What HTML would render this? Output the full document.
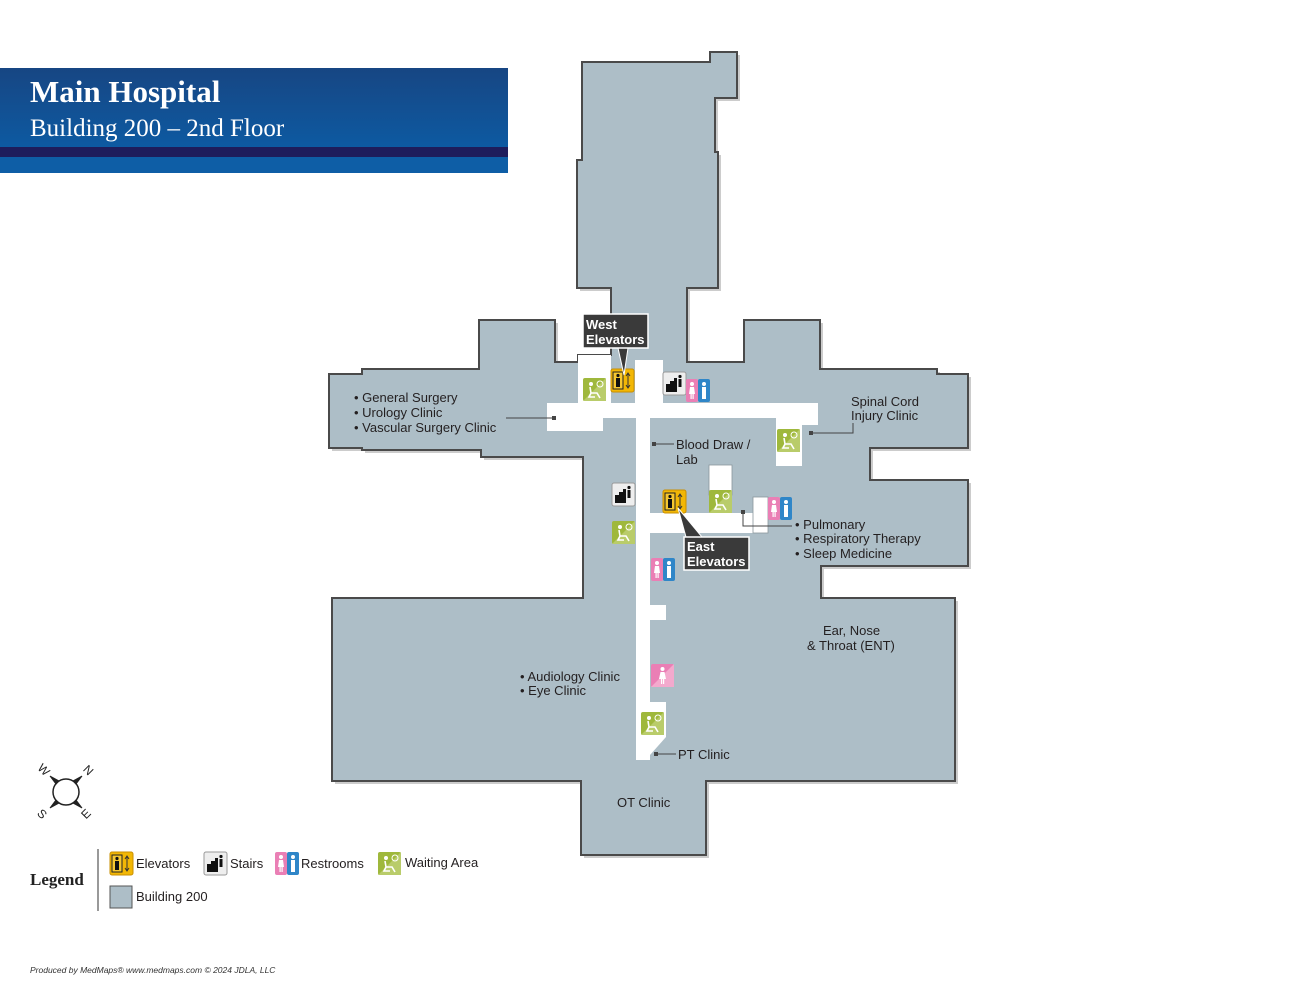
<!DOCTYPE html>
<html><head><meta charset="utf-8"><style>
html,body{margin:0;padding:0;background:#fff;}
svg{display:block;}
text{font-family:"Liberation Sans",sans-serif;}
.l{font-size:13px;fill:#231f20;}
.s{font-family:"Liberation Serif",serif;}
</style></head><body>
<svg width="1299" height="1004" viewBox="0 0 1299 1004" xmlns="http://www.w3.org/2000/svg">
<defs>
<linearGradient id="hg" x1="0" y1="0" x2="0" y2="1"><stop offset="0" stop-color="#174683"/><stop offset="1" stop-color="#0d5aa2"/></linearGradient>
<g id="wait"><rect width="23" height="23" rx="2" fill="#9fb83c"/><polygon points="23,0 23,23 0,23" fill="#b9cc6a"/><circle cx="8" cy="6" r="2" fill="#fff"/><path d="M7 9 L8 15 L14 15 L17 20 M8 15 L6 19 L12 19" stroke="#fff" stroke-width="1.6" fill="none"/><circle cx="17" cy="6" r="3" fill="none" stroke="#fff" stroke-width="1"/></g>
<g id="elev"><rect width="23" height="23" rx="2" fill="#f2b705" stroke="#c98f00"/><rect x="2" y="3" width="10" height="17" fill="#f7c830" stroke="#222" stroke-width="1"/><circle cx="7" cy="6.5" r="1.6" fill="#111"/><rect x="5" y="9" width="4" height="9" fill="#111"/><path d="M17 4 v15 M15 7 l2-3 2 3 M15 16 l2 3 2-3" stroke="#333" stroke-width="1" fill="none"/></g>
<g id="stair"><rect width="23" height="23" rx="2" fill="#eee" stroke="#999"/><path d="M3 20 V12 H7 V9 H11 V6 H14 V20Z" fill="#111"/><circle cx="17" cy="4.5" r="1.6" fill="#111"/><rect x="15.5" y="7" width="3" height="8" fill="#111"/></g>
<g id="rest"><rect width="12" height="23" rx="2" fill="#ea7fb5"/><rect x="12" width="12" height="23" rx="2" fill="#2f86c8"/><circle cx="6" cy="5" r="2" fill="#fff"/><path d="M4 8 H8 L9 15 H3Z M4.5 15 h1.2 v5 h-1.2z M6.5 15 h1.2 v5 h-1.2z" fill="#fff"/><circle cx="18" cy="5" r="2" fill="#fff"/><rect x="16" y="8" width="4" height="12" fill="#fff"/></g>
<g id="woman"><rect width="23" height="23" rx="2" fill="#ea7fb5"/><polygon points="23,0 23,23 0,23" fill="#f3a9cd"/><circle cx="11.5" cy="5" r="2" fill="#fff"/><path d="M9.5 8 H13.5 L15 15 H8Z M10 15 h1.2 v5 h-1.2z M12 15 h1.2 v5 h-1.2z" fill="#fff"/></g>
</defs>

<!-- header -->
<rect x="0" y="68" width="508" height="80" fill="url(#hg)"/>
<rect x="0" y="147" width="508" height="10" fill="#1e1d5c"/>
<rect x="0" y="157" width="508" height="16" fill="#0e5ea6"/>
<text x="30" y="102" class="s" font-size="31" font-weight="bold" fill="#fff">Main Hospital</text>
<text x="30" y="136" class="s" font-size="25" fill="#fff">Building 200 – 2nd Floor</text>

<!-- building -->
<g>
<path id="bld" d="M582 62 H710 V52 H737 V98 H715 V152 H718 V288 H687 V362 H744 V320 H820 V369 H937 V374 H968 V448 H870 V480 H968 V566 H821 V598 H955 V781 H706 V855 H581 V781 H332 V598 H583 V457 H481 V450 H362 V448 H329 V374 H362 V369 H479 V320 H555 V362 H578 V355 H611 V288 H577 V160 H582 Z" fill="#999" opacity="0.5" transform="translate(3,3)"/>
<path d="M582 62 H710 V52 H737 V98 H715 V152 H718 V288 H687 V362 H744 V320 H820 V369 H937 V374 H968 V448 H870 V480 H968 V566 H821 V598 H955 V781 H706 V855 H581 V781 H332 V598 H583 V457 H481 V450 H362 V448 H329 V374 H362 V369 H479 V320 H555 V362 H578 V355 H611 V288 H577 V160 H582 Z" fill="#adbec7" stroke="#4a4a4a" stroke-width="2"/>
</g>
<!-- corridors -->
<g fill="#fff" stroke="#8a969c" stroke-width="0.8">
<rect x="578" y="355" width="33" height="48" stroke="none"/>
<rect x="635" y="360" width="28" height="43" stroke="none"/>
<rect x="547" y="403" width="271" height="15" stroke="none"/>
<rect x="547" y="403" width="56" height="28" stroke="none"/>
<rect x="776" y="403" width="42" height="22" stroke="none"/>
<rect x="776" y="403" width="26" height="63" stroke="none"/>
<rect x="636" y="403" width="14" height="357" stroke="none"/>
<rect x="650" y="513" width="118" height="20" stroke="none"/>
<rect x="709" y="465" width="23" height="30"/>
<rect x="753" y="497" width="15" height="36"/>
<rect x="650" y="605" width="16" height="15" stroke="none"/>
<polygon points="650,702 666,702 666,737 650,755" stroke="none"/>
</g>

<!-- icons -->
<use href="#wait" x="583" y="378"/>
<use href="#elev" x="611" y="369"/>
<use href="#stair" x="663" y="372"/>
<use href="#rest" x="686" y="379"/>
<use href="#wait" x="777" y="429"/>
<use href="#stair" x="612" y="483"/>
<use href="#wait" x="612" y="521"/>
<use href="#elev" x="663" y="490"/>
<use href="#wait" x="709" y="490"/>
<use href="#rest" x="768" y="497"/>
<use href="#rest" x="651" y="558"/>
<use href="#woman" x="651" y="664"/>
<use href="#wait" x="641" y="712"/>

<!-- callouts -->
<polygon points="618,348 628,348 624,375" fill="#3a3a3a" stroke="#fff"/>
<rect x="583" y="314" width="65" height="34" fill="#3a3a3a" stroke="#fff" stroke-width="1.5"/>
<text x="586" y="329" font-size="13" font-weight="bold" fill="#fff">West</text>
<text x="586" y="344" font-size="13" font-weight="bold" fill="#fff">Elevators</text>
<polygon points="678,508 686,537 702,537" fill="#3a3a3a" stroke="#fff"/>
<rect x="684" y="537" width="65" height="33" fill="#3a3a3a" stroke="#fff" stroke-width="1.5"/>
<text x="687" y="551" font-size="13" font-weight="bold" fill="#fff">East</text>
<text x="687" y="566" font-size="13" font-weight="bold" fill="#fff">Elevators</text>

<!-- leader lines -->
<g stroke="#444" stroke-width="1" fill="none">
<path d="M506 418 H554"/><path d="M655 444 H674"/>
<path d="M811 433 H853 V423"/>
<path d="M743 512 V526 H792"/>
<path d="M656 754 H676"/>
</g>
<g fill="#444"><rect x="552" y="416" width="4" height="4"/><rect x="652" y="442" width="4" height="4"/><rect x="809" y="431" width="4" height="4"/><rect x="741" y="510" width="4" height="4"/><rect x="654" y="752" width="4" height="4"/></g>

<!-- labels -->
<text class="l" x="354" y="402">• General Surgery</text>
<text class="l" x="354" y="417">• Urology Clinic</text>
<text class="l" x="354" y="432">• Vascular Surgery Clinic</text>
<text class="l" x="851" y="406">Spinal Cord</text>
<text class="l" x="851" y="420">Injury Clinic</text>
<text class="l" x="676" y="449">Blood Draw /</text>
<text class="l" x="676" y="464">Lab</text>
<text class="l" x="795" y="529">• Pulmonary</text>
<text class="l" x="795" y="543">• Respiratory Therapy</text>
<text class="l" x="795" y="558">• Sleep Medicine</text>
<text class="l" x="823" y="635">Ear, Nose</text>
<text class="l" x="807" y="650">&amp; Throat (ENT)</text>
<text class="l" x="520" y="681">• Audiology Clinic</text>
<text class="l" x="520" y="695">• Eye Clinic</text>
<text class="l" x="678" y="759">PT Clinic</text>
<text class="l" x="617" y="807">OT Clinic</text>

<!-- compass -->
<g stroke="#222" fill="#222">
<circle cx="66" cy="792" r="13" fill="#fff" stroke-width="1.5"/>
<polygon points="50,776 56,784 59,781" /><polygon points="82,776 76,784 73,781"/>
<polygon points="50,808 56,800 59,803"/><polygon points="82,808 76,800 73,803"/>
</g>
<g font-size="12" fill="#222">
<text x="38" y="774" transform="rotate(45 44 770)">W</text>
<text x="84" y="774" transform="rotate(45 88 770)">N</text>
<text x="38" y="818" transform="rotate(45 42 814)">S</text>
<text x="82" y="818" transform="rotate(-45 86 814)">E</text>
</g>

<!-- legend -->
<text x="30" y="885" class="s" font-size="17" font-weight="bold" fill="#222">Legend</text>
<line x1="98" y1="849" x2="98" y2="911" stroke="#333"/>
<use href="#elev" x="110" y="852"/>
<text class="l" x="136" y="868">Elevators</text>
<use href="#stair" x="204" y="852"/>
<text class="l" x="230" y="868">Stairs</text>
<use href="#rest" x="275" y="852"/>
<text class="l" x="301" y="868">Restrooms</text>
<use href="#wait" x="378" y="852"/>
<text class="l" x="405" y="867">Waiting Area</text>
<rect x="110" y="886" width="22" height="22" fill="#adbec7" stroke="#555"/>
<text class="l" x="136" y="901">Building 200</text>

<text x="30" y="973" font-size="8.5" font-style="italic" fill="#333">Produced by MedMaps®  www.medmaps.com   © 2024 JDLA, LLC</text>
</svg>
</body></html>
